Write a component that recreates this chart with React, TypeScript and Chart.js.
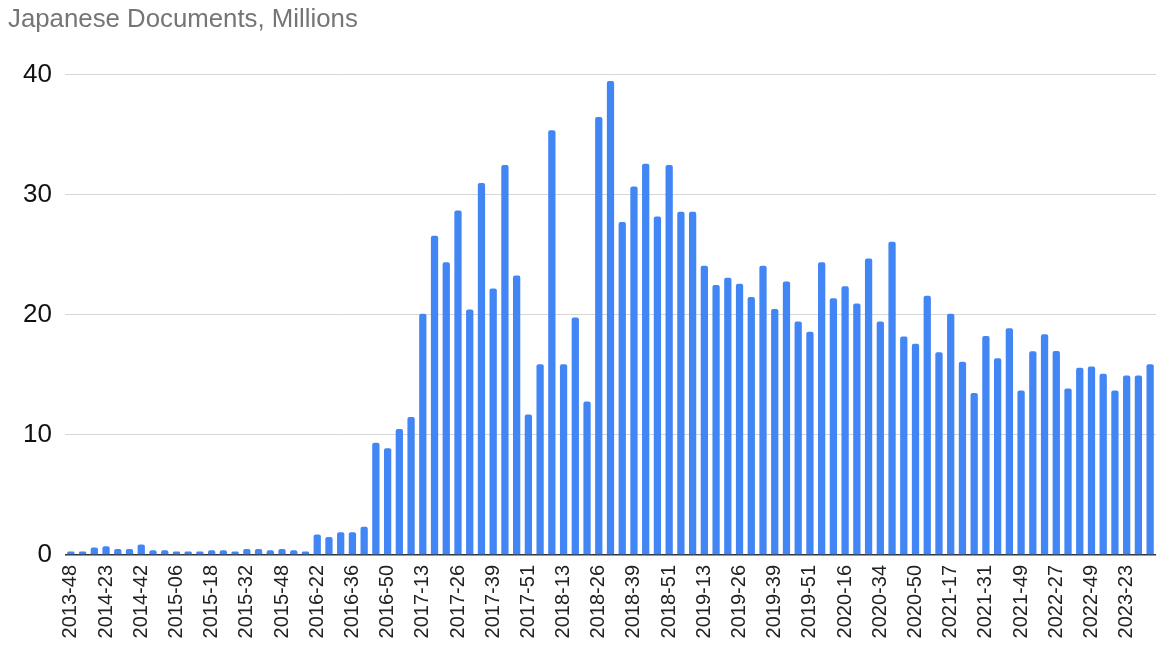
import React, { useEffect, useRef } from "react";
import { Chart, registerables } from "chart.js";

Chart.register(...registerables);

const dumps: string[] = [
  "2013-48",
  "2014-10", "2014-15", "2014-23", "2014-35", "2014-41", "2014-42", "2014-49", "2014-52",
  "2015-06", "2015-11", "2015-14", "2015-18", "2015-22", "2015-27", "2015-32", "2015-35", "2015-40", "2015-48",
  "2016-07", "2016-18", "2016-22", "2016-26", "2016-30", "2016-36", "2016-40", "2016-44", "2016-50",
  "2017-04", "2017-09", "2017-13", "2017-17", "2017-22", "2017-26", "2017-30", "2017-34", "2017-39", "2017-43", "2017-47", "2017-51",
  "2018-05", "2018-09", "2018-13", "2018-17", "2018-22", "2018-26", "2018-30", "2018-34", "2018-39", "2018-43", "2018-47", "2018-51",
  "2019-04", "2019-09", "2019-13", "2019-18", "2019-22", "2019-26", "2019-30", "2019-35", "2019-39", "2019-43", "2019-47", "2019-51",
  "2020-05", "2020-10", "2020-16", "2020-24", "2020-29", "2020-34", "2020-40", "2020-45", "2020-50",
  "2021-04", "2021-10", "2021-17", "2021-21", "2021-25", "2021-31", "2021-39", "2021-43", "2021-49",
  "2022-05", "2022-21", "2022-27", "2022-33", "2022-40", "2022-49",
  "2023-06", "2023-14", "2023-23", "2023-40", "2023-50",
];

const japaneseDocsMillions: number[] = [
  0.3, 0.3, 0.62, 0.72, 0.5, 0.5, 0.87, 0.4, 0.4, 0.3, 0.3, 0.3, 0.4, 0.4, 0.3, 0.5, 0.5, 0.4, 0.5, 0.4, 0.3,
  1.7, 1.5, 1.9, 1.9, 2.35, 9.35, 8.9, 10.5, 11.5,
  20.1, 26.6, 24.4, 28.7, 20.45, 31.0, 22.2, 32.5, 23.3, 11.7, 15.9, 35.4, 15.9, 19.8, 12.8, 36.5, 39.5, 27.75, 30.7, 32.6, 28.2,
  32.5, 28.6, 28.6, 24.1, 22.5, 23.1, 22.6, 21.5, 24.1, 20.5, 22.8, 19.45, 18.6, 24.4, 21.4, 22.4, 20.95, 24.7, 19.45, 26.1, 18.2, 17.6, 21.6, 16.9,
  20.1, 16.1, 13.5, 18.25, 16.4, 18.9, 13.7, 16.97, 18.4, 17.0, 13.87, 15.6, 15.7, 15.1, 13.7, 14.95, 14.95, 15.9,
];

const yTicks: number[] = [0, 10, 20, 30, 40];
const titleText = "Japanese Documents, Millions";
const labelEvery = 3;

const FONT = "'Liberation Sans', Arial, Helvetica, sans-serif";

export default function App() {
  const canvasRef = useRef<HTMLCanvasElement | null>(null);

  useEffect(() => {
    document.body.style.margin = "0";
    const canvas = canvasRef.current;
    if (!canvas) return;
    const chart = new Chart(canvas, {
      type: "bar",
      data: {
        labels: dumps,
        datasets: [
          {
            data: japaneseDocsMillions,
            backgroundColor: "#4285f4",
            borderWidth: 0,
            borderRadius: 2,
            barPercentage: 0.62,
            categoryPercentage: 1,
          },
        ],
      },
      options: {
        animation: false,
        responsive: true,
        maintainAspectRatio: false,
        layout: { padding: { left: 8, right: 0, top: 0, bottom: 0 } },
        plugins: {
          legend: { display: false },
          tooltip: { enabled: false },
          title: {
            display: true,
            text: titleText,
            align: "start",
            color: "#757575",
            font: { family: FONT, size: 25.8, weight: "normal" },
            padding: { top: 4, bottom: 40 },
          },
        },
        scales: {
          x: {
            grid: { display: false, drawTicks: false },
            border: { display: false },
            afterFit: (scale: any) => {
              scale.height = 90;
              scale.paddingRight = 0;
              scale.paddingLeft = 0;
            },
            ticks: {
              autoSkip: false,
              minRotation: 90,
              maxRotation: 90,
              padding: 10,
              color: "#222222",
              font: { family: FONT, size: 20 },
              callback: (_v: any, i: number) => (i % labelEvery === 0 ? dumps[i] : ""),
            },
          },
          y: {
            min: yTicks[0],
            max: yTicks[yTicks.length - 1],
            afterFit: (scale: any) => {
              scale.width = 57;
            },
            afterBuildTicks: (scale: any) => {
              scale.ticks = yTicks.map((v) => ({ value: v }));
            },
            border: { display: false },
            grid: {
              drawTicks: false,
              color: (ctx: any) => (ctx.tick && ctx.tick.value === 0 ? "#333333" : "#d6d6d6"),
              lineWidth: (ctx: any) => (ctx.tick && ctx.tick.value === 0 ? 1.5 : 1),
            },
            ticks: {
              padding: 13,
              color: "#111111",
              font: { family: FONT, size: 26 },
            },
          },
        },
      },
    });
    return () => chart.destroy();
  }, []);

  return (
    <div style={{ position: "relative", width: 1156, height: 645 }}>
      <canvas ref={canvasRef} style={{ display: "block" }} />
    </div>
  );
}
